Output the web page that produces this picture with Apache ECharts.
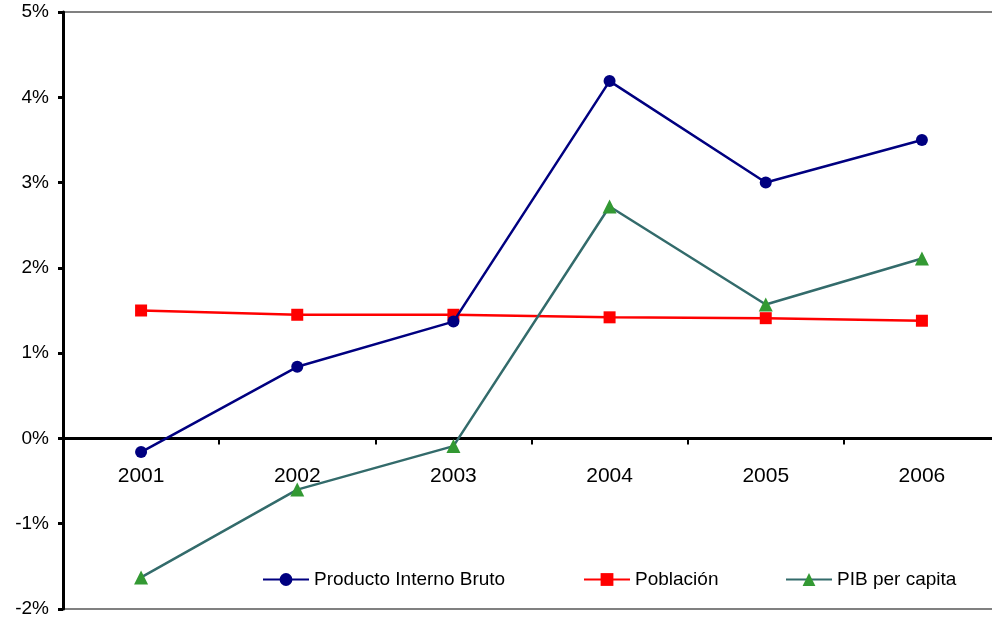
<!DOCTYPE html>
<html>
<head>
<meta charset="utf-8">
<script src="https://cdn.jsdelivr.net/npm/echarts@6/dist/echarts.min.js"></script>
<style>
  html, body { margin: 0; padding: 0; background: #fff; }
  #chart { width: 992px; height: 621px; }
</style>
</head>
<body>
<div id="chart"></div>
<script>
// Años del periodo
const years = ['2001', '2002', '2003', '2004', '2005', '2006'];

// Tasas de variación anual (%)
const pib = [-0.16, 0.84, 1.37, 4.19, 3.00, 3.50];
const poblacion = [1.50, 1.45, 1.45, 1.42, 1.41, 1.38];
const pibPerCapita = [-1.63, -0.60, -0.09, 2.72, 1.57, 2.11];

// Marcas del eje vertical
const yTicks = { min: -2, max: 5, interval: 1 };

const seriesNames = ['Producto Interno Bruto', 'Población', 'PIB per capita'];

const font = 'Liberation Sans, Arial, sans-serif';

const chart = echarts.init(document.getElementById('chart'), null, { renderer: 'canvas' });

function legendAt(name, left) {
  return {
    data: [name],
    left: left,
    top: 565,
    orient: 'horizontal',
    itemWidth: 46,
    itemHeight: 16,
    itemGap: 10,
    textStyle: { fontFamily: font, fontSize: 19, color: '#000' },
    selectedMode: false
  };
}

// Los rótulos de los años van pegados a la línea del cero
const yearLabels = years.map(y => [y, 0]);

chart.setOption({
  animation: false,
  backgroundColor: '#ffffff',
  grid: {
    left: 63,
    top: 12,
    width: 937,
    height: 597,
    show: true,
    borderColor: '#808080',
    borderWidth: 2,
    containLabel: false,
    outerBoundsMode: 'none'
  },
  legend: [
    legendAt(seriesNames[0], 257),
    legendAt(seriesNames[1], 578),
    legendAt(seriesNames[2], 780)
  ],
  xAxis: {
    type: 'category',
    data: years,
    boundaryGap: true,
    axisLine: { onZero: true, lineStyle: { color: '#000', width: 3 } },
    axisTick: { show: true, length: 6, inside: false, lineStyle: { color: '#000', width: 2 } },
    axisLabel: { show: false },
    splitLine: { show: false }
  },
  yAxis: {
    type: 'value',
    min: yTicks.min,
    max: yTicks.max,
    interval: yTicks.interval,
    axisLine: { show: true, lineStyle: { color: '#000', width: 3 } },
    axisTick: { show: true, length: 5, lineStyle: { color: '#000', width: 3 } },
    axisLabel: {
      fontFamily: font, fontSize: 19, color: '#000', margin: 14,
      formatter: v => v + '%'
    },
    splitLine: { show: false }
  },
  series: [
    {
      name: 'años',
      type: 'scatter',
      data: yearLabels,
      symbolSize: 0,
      silent: true,
      z: 1,
      itemStyle: { opacity: 1, color: '#000' },
      label: {
        show: true,
        position: 'bottom',
        distance: 27,
        fontFamily: font,
        fontSize: 21,
        color: '#000',
        opacity: 1,
        formatter: p => p.value[0]
      }
    },
    {
      name: seriesNames[0],
      type: 'line',
      data: pib,
      symbol: 'circle',
      symbolSize: 12,
      lineStyle: { color: '#000080', width: 2.5 },
      itemStyle: { color: '#000080' },
      z: 4
    },
    {
      name: seriesNames[1],
      type: 'line',
      data: poblacion,
      symbol: 'rect',
      symbolSize: 12,
      lineStyle: { color: '#ff0000', width: 2.5 },
      itemStyle: { color: '#ff0000' },
      z: 3
    },
    {
      name: seriesNames[2],
      type: 'line',
      data: pibPerCapita,
      symbol: 'triangle',
      symbolSize: 14,
      lineStyle: { color: '#336b6b', width: 2.5 },
      itemStyle: { color: '#339933' },
      z: 3
    }
  ]
});
</script>
</body>
</html>
